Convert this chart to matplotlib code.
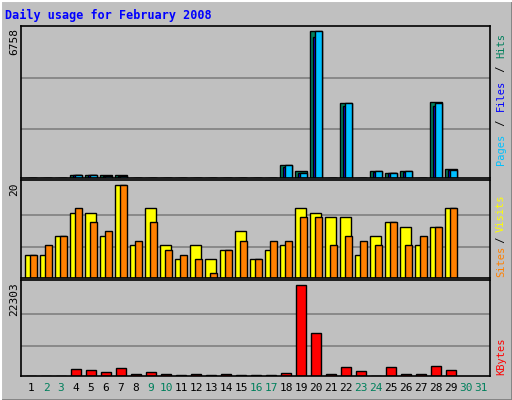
import matplotlib
matplotlib.use('Agg')
import matplotlib.pyplot as plt
from matplotlib.patches import Rectangle

days = list(range(1, 32))
weekend = [2, 3, 9, 10, 16, 17, 23, 24, 30, 31]

# top panel: hits / files / pages (days 1..29)
hits = [20, 20, 20, 160, 160, 120, 120, 20, 20, 20, 20, 20, 20, 20, 20, 20, 20,
        580, 300, 6758, 20, 3430, 20, 300, 250, 300, 20, 3480, 400]
files = [20, 20, 20, 120, 120, 100, 100, 20, 20, 20, 20, 20, 20, 20, 20, 20, 20,
         520, 250, 6500, 20, 3300, 20, 280, 240, 280, 20, 3300, 350]
pages = [20, 20, 20, 120, 120, 80, 80, 20, 20, 20, 20, 20, 20, 20, 20, 20, 20,
         580, 245, 6758, 20, 3430, 20, 300, 210, 300, 20, 3430, 350]
# middle panel: sites / visits
sites = [5, 5, 9, 14, 14, 9, 20, 7, 15, 7, 4, 7, 4, 6, 10, 4, 6, 7, 15, 14, 13, 13,
         5, 9, 12, 11, 7, 11, 15]
visits = [5, 7, 9, 15, 12, 10, 20, 8, 12, 6, 5, 4, 1, 6, 8, 4, 8, 8, 13, 13, 7, 9,
          8, 7, 12, 7, 9, 11, 15]
# bottom panel: kbytes
kbytes = [100, 100, 100, 1715, 1470, 980, 1960, 490, 980, 490, 150, 490, 150, 490,
          150, 150, 150, 735, 22303, 10540, 490, 2200, 1225, 100, 2200, 490, 490,
          2450, 1470]

BG = '#C0C0C0'
MONO = 'DejaVu Sans Mono'
W, H = 512, 400

fig = plt.figure(figsize=(5.12, 4.0), dpi=100, facecolor=BG)

# 3d outer border
fig.add_artist(Rectangle((0, 0), 1, 1, transform=fig.transFigure, fill=False,
                         edgecolor='#808080', lw=2))
fig.add_artist(plt.Line2D([0.002, 0.002], [0, 1], color='white', lw=1.5))
fig.add_artist(plt.Line2D([0, 1], [0.997, 0.997], color='white', lw=1.5))


def panel(y0, y1):
    ax = fig.add_axes([20.5 / W, 1 - y1 / H, (490 - 20.5) / W, (y1 - y0) / H])
    ax.set_facecolor(BG)
    ax.set_xlim(0.313, 31.6)
    ax.set_xticks([])
    ax.set_yticks([])
    for s in ax.spines.values():
        s.set_color('black')
        s.set_linewidth(1.2)
    return ax


def grid(ax, top):
    for f in (0.335, 0.68):
        ax.axhline(top * f, color='#808080', lw=1.2, zorder=0)


x = days[:29]

# top
ax1 = panel(26, 178)
m = max(hits)
ax1.set_ylim(0, m * 1.035)
grid(ax1, m)
ax1.bar([d - 0.37 for d in x], hits, width=0.75, align='edge', color='#00805C',
        edgecolor='black', lw=1)
ax1.bar([d - 0.22 for d in x], files, width=0.55, align='edge', color='#0000FF',
        edgecolor='black', lw=1)
ax1.bar([d - 0.07 for d in x], pages, width=0.45, align='edge', color='#00C0FF',
        edgecolor='black', lw=1)

# middle
ax2 = panel(180, 278)
m = max(visits)
ax2.set_ylim(0, m * 1.05)
grid(ax2, m)
ax2.bar([d - 0.37 for d in x], sites, width=0.7, align='edge', color='#FFFF00',
        edgecolor='black', lw=1)
ax2.bar([d - 0.07 for d in x], visits, width=0.45, align='edge', color='#FF8000',
        edgecolor='black', lw=1)

# bottom
ax3 = panel(280, 376)
m = max(kbytes)
ax3.set_ylim(0, m * 1.06)
grid(ax3, m)
ax3.bar(x, kbytes, width=0.69, color='#FF0000', edgecolor='black', lw=1)

# day labels
for d in days:
    fig.text((31 + 15 * (d - 1)) / W, 1 - 388 / H, str(d), ha='center', va='center',
             family=MONO, fontsize=8,
             color='#00805C' if d in weekend else 'black')

fig.text(5 / W, 1 - 15 / H, 'Daily usage for February 2008', family=MONO,
         fontsize=8.5, fontweight='bold', color='#0000FF', va='center')

# left max labels
for y, v in [(28, max(hits)), (182, max(visits)), (282, max(kbytes))]:
    fig.text(14 / W, 1 - y / H, str(v), rotation=90, rotation_mode='anchor',
             ha='right', va='center', family=MONO, fontsize=8)


def side(ybot, parts, step):
    y = ybot
    for txt, col in parts:
        fig.text(501 / W, 1 - y / H, txt, rotation=90, rotation_mode='anchor',
                 ha='left', va='center', family=MONO, fontsize=7.5, color=col)
        y -= len(txt) * step


side(165, [('Pages', '#00C0FF'), (' / ', 'black'), ('Files', '#0000FF'),
           (' / ', 'black'), ('Hits', '#00805C')], 6.7)
side(277, [('Sites', '#FF8000'), (' / ', 'black'), ('Visits', '#FFFF00')], 5.6)
side(375, [('KBytes', '#FF0000')], 6.0)

fig.savefig('out.png', dpi=100, facecolor=BG)
